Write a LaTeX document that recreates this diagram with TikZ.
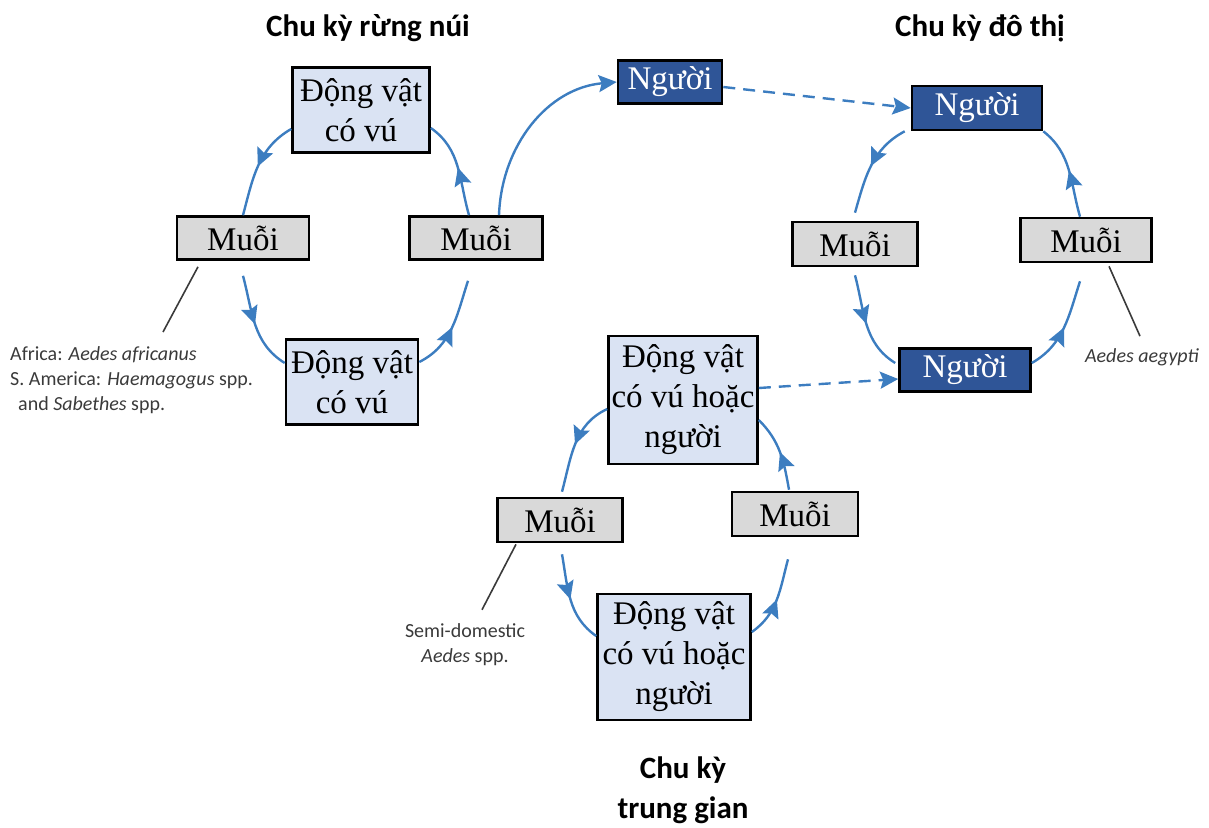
\documentclass[tikz,border=0pt]{standalone}
\usepackage{fontspec}
\setmainfont{Liberation Serif}
\newfontfamily\calib{Carlito}
\usetikzlibrary{arrows.meta,decorations.markings}
\definecolor{boxblue}{HTML}{DAE3F3}
\definecolor{boxgrey}{HTML}{D9D9D9}
\definecolor{navy}{HTML}{2F5597}
\definecolor{arrblue}{HTML}{3C7DC0}
\definecolor{notegrey}{HTML}{3A3A3A}
\begin{document}
\begin{tikzpicture}[x=1pt,y=1pt,
  box/.style={draw=black, line width=2.6pt, inner sep=0pt, align=center, font=\fontsize{33}{40}\selectfont},
  lbox/.style={box, fill=boxblue},
  gbox/.style={box, fill=boxgrey, minimum height=43pt},
  nbox/.style={box, fill=navy, text=white, minimum height=43pt},
  cyc/.style={color=arrblue, line width=2.4pt, postaction={decorate},
    decoration={markings, mark=at position 0.5 with {\arrow{Stealth[length=18pt,width=17pt,inset=3pt]}}}},
  tip/.style={color=arrblue, line width=2.4pt, -{Stealth[length=18pt,width=17pt,inset=3pt]}},
  dline/.style={color=arrblue, line width=2.4pt, dash pattern=on 12pt off 8pt, -{Stealth[length=18pt,width=17pt,inset=3pt]}},
  noteline/.style={draw=notegrey, line width=1.6pt},
  note/.style={text=notegrey, font=\calib\fontsize{20}{25}\selectfont, inner sep=0pt},
  ttl/.style={font=\calib\bfseries\fontsize{31}{40}\selectfont, align=center, inner sep=0pt}
]
\useasboundingbox (0,0) rectangle (1209,-827);

% titles
\node[ttl] (t1) at (368,-28) {Chu kỳ rừng núi};
\node[ttl] (t2) at (980,-28) {Chu kỳ đô thị};
\node[ttl] (t3) at (683,-790) {Chu kỳ\\trung gian};

% left cycle
\node[lbox, minimum width=137pt, minimum height=85pt] (Ltop) at (361,-110) {Động vật\\có vú};
\node[gbox, minimum width=132pt] (Lm1) at (243,-238) {Muỗi};
\node[gbox, minimum width=133pt] (Lm2) at (476,-238) {Muỗi};
\node[lbox, minimum width=132pt, minimum height=85pt] (Lbot) at (352,-382) {Động vật\\có vú};
\node[nbox, minimum width=104pt] (Ptop) at (670,-82) {Người};

% right cycle
\node[nbox, minimum width=130pt, minimum height=44pt] (Rtop) at (977,-108) {Người};
\node[gbox, minimum width=125pt, minimum height=44pt] (Rm1) at (855,-244) {Muỗi};
\node[gbox, minimum width=131pt, minimum height=44pt] (Rm2) at (1086,-240) {Muỗi};
\node[nbox, minimum width=131pt] (Rbot) at (965,-370) {Người};

% middle cycle
\node[lbox, minimum width=149pt, minimum height=128pt] (Mtop) at (683,-400) {Động vật\\có vú hoặc\\người};
\node[gbox, minimum width=125pt, minimum height=44pt] (Mm1) at (560,-520) {Muỗi};
\node[gbox, minimum width=126pt, minimum height=44pt] (Mm2) at (795,-514) {Muỗi};
\node[lbox, minimum width=153pt, minimum height=126pt] (Mbot) at (674,-657) {Động vật\\có vú hoặc\\người};

% notes
\node[note, anchor=north west, align=left] (Lnote) at (10,-346) {Africa: \textit{Aedes africanus}\\S. America: \textit{Haemagogus} spp.\\\hspace*{8pt}and \textit{Sabethes} spp.};
\node[note, align=center] (Mnote) at (465,-645) {Semi-domestic\\\textit{Aedes} spp.};
\node[note] (Rnote) at (1142,-357) {\textit{Aedes aegypti}};

\draw[noteline] ([xshift=-45pt,yshift=-6pt]Lm1.south) -- ([xshift=153pt,yshift=14pt]Lnote.north west);
\draw[noteline] ([xshift=-44pt,yshift=-1pt]Mm1.south) -- ([xshift=17pt,yshift=14pt]Mnote.north);
\draw[noteline] ([xshift=23pt,yshift=-3pt]Rm2.south) -- ([xshift=-2pt,yshift=12pt]Rnote.north);

% left cycle arcs
\draw[cyc] ([yshift=-19pt]Ltop.west) to[out=210,in=75] (Lm1.north);
\draw[cyc] ([yshift=-15pt]Lm1.south) to[out=285,in=148] ([yshift=19pt]Lbot.west);
\draw[cyc] ([yshift=20pt]Lbot.east) to[out=27,in=252] ([xshift=-8pt,yshift=-20pt]Lm2.south);
\draw[cyc] ([xshift=-7pt]Lm2.north) to[out=106,in=325] ([yshift=-18pt]Ltop.east);
\draw[tip] ([xshift=23pt]Lm2.north) to[out=88,in=185] (Ptop.west);

% dashed
\draw[dline] ([yshift=-5pt]Ptop.east) -- (Rtop.west);
\draw[dline] ([yshift=12pt]Mtop.east) -- ([yshift=-9pt]Rbot.west);

% right cycle arcs
\draw[cyc] ([xshift=-6pt]Rtop.south west) to[out=208,in=74] ([yshift=8pt]Rm1.north);
\draw[cyc] ([yshift=-8pt]Rm1.south) to[out=285,in=148] ([xshift=-3pt,yshift=7pt]Rbot.west);
\draw[cyc] ([yshift=7pt]Rbot.east) to[out=30,in=252] ([xshift=-6pt,yshift=-18pt]Rm2.south);
\draw[cyc] ([xshift=-6pt]Rm2.north) to[out=106,in=322] (Rtop.south east);

% middle cycle arcs
\draw[cyc] ([yshift=-9pt]Mtop.west) to[out=205,in=75] ([xshift=2pt,yshift=5pt]Mm1.north);
\draw[cyc] ([xshift=2pt,yshift=-11pt]Mm1.south) to[out=280,in=145] ([yshift=21pt]Mbot.west);
\draw[cyc] ([yshift=25pt]Mbot.east) to[out=35,in=255] ([xshift=-7pt,yshift=-22pt]Mm2.south);
\draw[cyc] ([xshift=-6pt,yshift=1pt]Mm2.north) to[out=100,in=315] ([yshift=-20pt]Mtop.east);
\end{tikzpicture}
\end{document}
